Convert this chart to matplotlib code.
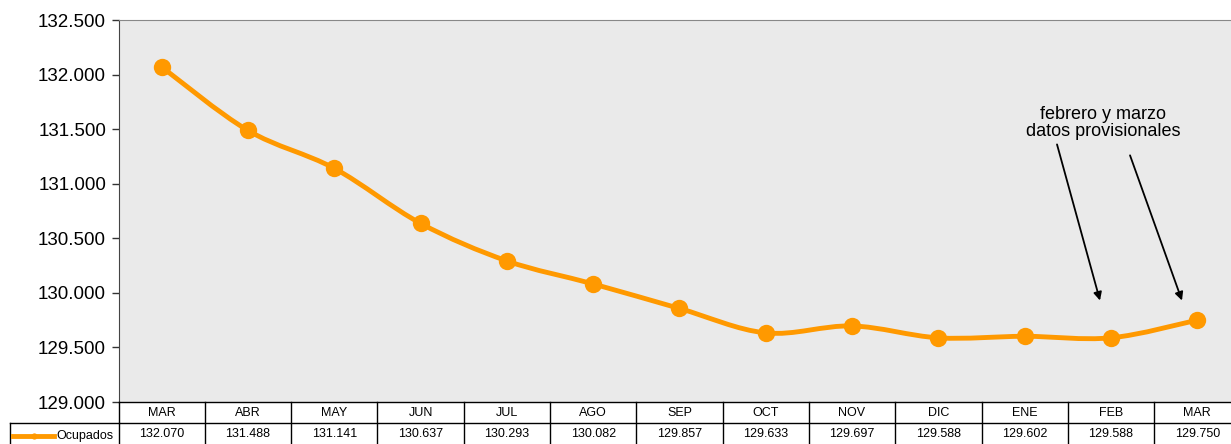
import matplotlib
matplotlib.use("Agg")
import matplotlib.pyplot as plt
from matplotlib.path import Path
from matplotlib.patches import PathPatch
from matplotlib.transforms import blended_transform_factory
from matplotlib.lines import Line2D

months = ["MAR", "ABR", "MAY", "JUN", "JUL", "AGO", "SEP", "OCT", "NOV", "DIC", "ENE", "FEB", "MAR"]
ocupados = [132.070, 131.488, 131.141, 130.637, 130.293, 130.082, 129.857,
            129.633, 129.697, 129.588, 129.602, 129.588, 129.750]
yticks = [129.0, 129.5, 130.0, 130.5, 131.0, 131.5, 132.0, 132.5]
series_name = "Ocupados"
note = "febrero y marzo\ndatos provisionales"

plt.rcParams['font.family'] = ['Liberation Sans', 'DejaVu Sans']

W, H = 1231, 444
fig = plt.figure(figsize=(W / 100, H / 100), dpi=100)
left_px, col_w = 118.5, 86.3
top_px, bot_px = 20, 402
ax = fig.add_axes([left_px / W, 1 - bot_px / H, 13 * col_w / W, (bot_px - top_px) / H])
ax.set_facecolor('#eaeaea')
fig.patch.set_facecolor('white')

n = len(ocupados)
xs = list(range(n))

# smoothed line (Catmull-Rom Bezier through the data points)
verts = [(xs[0], ocupados[0])]
codes = [Path.MOVETO]
for i in range(n - 1):
    p0 = (xs[max(i - 1, 0)], ocupados[max(i - 1, 0)])
    p1 = (xs[i], ocupados[i])
    p2 = (xs[i + 1], ocupados[i + 1])
    p3 = (xs[min(i + 2, n - 1)], ocupados[min(i + 2, n - 1)])
    c1 = (p1[0] + (p2[0] - p0[0]) / 6, p1[1] + (p2[1] - p0[1]) / 6)
    c2 = (p2[0] - (p3[0] - p1[0]) / 6, p2[1] - (p3[1] - p1[1]) / 6)
    verts += [c1, c2, p2]
    codes += [Path.CURVE4] * 3
orange = '#FF9900'
ax.add_patch(PathPatch(Path(verts, codes), facecolor='none', edgecolor=orange,
                       lw=3.5, capstyle='round', joinstyle='round', zorder=3))
ax.plot(xs, ocupados, linestyle='none', marker='o', ms=12.5, color=orange,
        markeredgewidth=0, zorder=4)

ax.set_xlim(-0.5, n - 0.5)
ax.set_ylim(129.0, 132.5)
ax.set_yticks(yticks)
ax.set_yticklabels([f"{v:.3f}" for v in yticks], fontsize=13.5)
ax.tick_params(axis='y', length=5, width=1, color='#333333', pad=4)
ax.set_xticks([])
ax.spines['right'].set_visible(False)
ax.spines['left'].set_color('#444444')
ax.spines['top'].set_color('#888888')
ax.spines['bottom'].set_color('black')
ax.spines['bottom'].set_linewidth(1)

# annotation
ax.text(10.91, 131.56, note, ha='center', va='center', fontsize=13,
        linespacing=1.0, zorder=5)
ax.annotate("", xy=(10.873, 129.93), xytext=(10.375, 131.36),
            arrowprops=dict(arrowstyle='-|>', color='black', lw=1.3,
                            mutation_scale=12, shrinkA=0, shrinkB=0))
ax.annotate("", xy=(11.823, 129.93), xytext=(11.221, 131.26),
            arrowprops=dict(arrowstyle='-|>', color='black', lw=1.3,
                            mutation_scale=12, shrinkA=0, shrinkB=0))

# data table
tr = blended_transform_factory(ax.transData, fig.transFigure)
y_top = 1 - bot_px / H
y_mid = 1 - 423 / H
y_bot = 0.0
lk = dict(color='black', lw=1, clip_on=False, transform=tr)
for i in range(n + 1):
    fig.add_artist(Line2D([i - 0.5, i - 0.5], [y_bot, y_top], **lk))
fig.add_artist(Line2D([-0.5, n - 0.5], [y_mid, y_mid], **lk))
# legend cell
fig.add_artist(Line2D([10 / W, left_px / W], [y_mid, y_mid], color='black', lw=1,
                      transform=fig.transFigure))
fig.add_artist(Line2D([10 / W, 10 / W], [y_bot, y_mid], color='black', lw=1,
                      transform=fig.transFigure))
fig.add_artist(Line2D([13 / W, 54 / W], [1 - 436 / H, 1 - 436 / H], color=orange, lw=3.5,
                      transform=fig.transFigure))
fig.add_artist(Line2D([33.5 / W], [1 - 435.5 / H], color=orange, marker='o', ms=4.5,
                      markeredgewidth=0, transform=fig.transFigure))
fig.text(56 / W, 1 - 436 / H, series_name, fontsize=9, va='center', ha='left')

y_head = 1 - 412.5 / H
y_val = 1 - 434 / H
for i, (m, v) in enumerate(zip(months, ocupados)):
    fig.text(i, y_head, m, transform=tr, ha='center', va='center', fontsize=9)
    fig.text(i, y_val, f"{v:.3f}", transform=tr, ha='center', va='center', fontsize=9)

fig.savefig("out.png", dpi=100)
